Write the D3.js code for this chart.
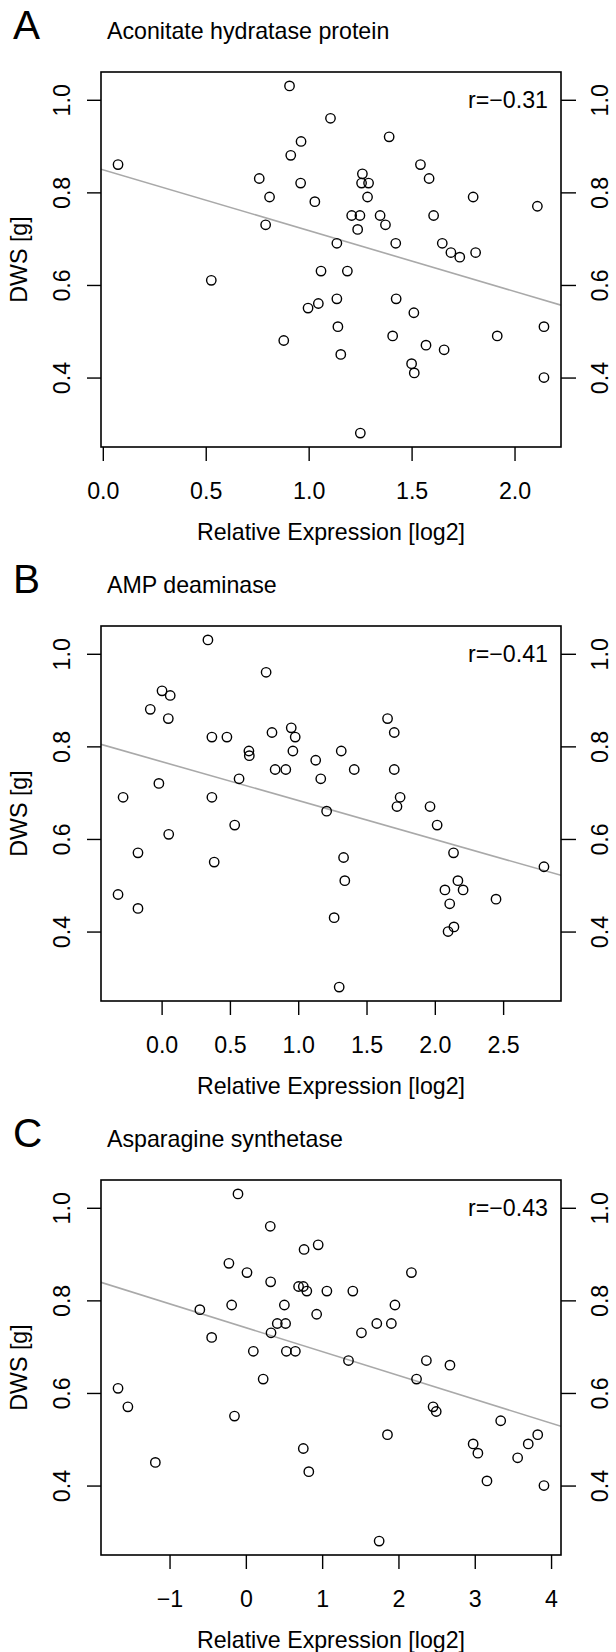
<!DOCTYPE html>
<html>
<head>
<meta charset="utf-8">
<script src="https://cdn.jsdelivr.net/npm/d3@7"></script>
<style>
  body { margin: 0; background: #fff; }
  svg text { font-family: "Liberation Sans", Arial, sans-serif; fill: #000; }
</style>
</head>
<body>
<div id="chart"></div>
<script>
// panel A: Aconitate hydratase protein
const xA = [0.074, 0.527, 0.760, 0.810, 0.791, 0.907, 0.913, 0.963, 0.961, 0.879, 0.997, 1.047, 1.030, 1.060, 1.106, 1.137, 1.137,
    1.142, 1.156, 1.188, 1.209, 1.238, 1.249, 1.251, 1.257, 1.261, 1.291, 1.286, 1.347, 1.373, 1.391, 1.423, 1.425, 1.408, 1.500,
    1.513, 1.511, 1.543, 1.585, 1.570, 1.607, 1.649, 1.658, 1.691, 1.734, 1.799, 1.811, 1.916, 2.111, 2.143, 2.143];
const yA = [0.86, 0.61, 0.83, 0.79, 0.73, 1.03, 0.88, 0.91, 0.82, 0.48, 0.55, 0.56, 0.78, 0.63, 0.96, 0.69, 0.57,
    0.51, 0.45, 0.63, 0.75, 0.72, 0.75, 0.28, 0.82, 0.84, 0.82, 0.79, 0.75, 0.73, 0.92, 0.69, 0.57, 0.49, 0.43,
    0.41, 0.54, 0.86, 0.83, 0.47, 0.75, 0.69, 0.46, 0.67, 0.66, 0.79, 0.67, 0.49, 0.77, 0.51, 0.40];

// panel B: AMP deaminase
const xB = [-0.319, -0.282, -0.173, -0.173, -0.083, -0.020, 0.003, 0.063, 0.049, 0.052, 0.339, 0.368, 0.368, 0.385, 0.478, 0.535,
    0.567, 0.639, 0.642, 0.765, 0.808, 0.831, 0.909, 0.949, 0.978, 0.961, 1.128, 1.165, 1.208, 1.263, 1.300, 1.315, 1.332, 1.341,
    1.410, 1.654, 1.703, 1.703, 1.723, 1.746, 1.965, 2.017, 2.074, 2.109, 2.097, 2.140, 2.137, 2.169, 2.207, 2.448, 2.799];
const yB = [0.48, 0.69, 0.57, 0.45, 0.88, 0.72, 0.92, 0.91, 0.86, 0.61, 1.03, 0.82, 0.69, 0.55, 0.82, 0.63,
    0.73, 0.79, 0.78, 0.96, 0.83, 0.75, 0.75, 0.84, 0.82, 0.79, 0.77, 0.73, 0.66, 0.43, 0.28, 0.79, 0.56, 0.51,
    0.75, 0.86, 0.83, 0.75, 0.67, 0.69, 0.67, 0.63, 0.49, 0.46, 0.40, 0.41, 0.57, 0.51, 0.49, 0.47, 0.54];

// panel C: Asparagine synthetase
const xC = [-1.675, -1.546, -1.186, -0.603, -0.448, -0.222, -0.186, -0.149, -0.103, 0.015, 0.098, 0.227, 0.320, 0.325, 0.330,
    0.412, 0.521, 0.505, 0.531, 0.649, 0.691, 0.753, 0.763, 0.799, 0.753, 0.825, 0.928, 0.948, 1.062, 1.345, 1.402, 1.515, 1.716,
    1.747, 1.856, 1.907, 1.954, 2.170, 2.237, 2.366, 2.454, 2.495, 2.675, 2.979, 3.041, 3.160, 3.340, 3.562, 3.701, 3.825, 3.907];
const yC = [0.61, 0.57, 0.45, 0.78, 0.72, 0.88, 0.79, 0.55, 1.03, 0.86, 0.69, 0.63, 0.96, 0.84, 0.73,
    0.75, 0.75, 0.79, 0.69, 0.69, 0.83, 0.83, 0.91, 0.82, 0.48, 0.43, 0.77, 0.92, 0.82, 0.67, 0.82, 0.73, 0.75,
    0.28, 0.51, 0.75, 0.79, 0.86, 0.63, 0.67, 0.57, 0.56, 0.66, 0.49, 0.47, 0.41, 0.54, 0.46, 0.49, 0.51, 0.40];

// regression lines: [intercept, slope]
const fitA = [0.849, -0.1315];
const fitB = [0.767, -0.084];
const fitC = [0.741, -0.0516];

const xTicksA = [0, 0.5, 1, 1.5, 2];
const xTicksB = [0, 0.5, 1, 1.5, 2, 2.5];
const xTicksC = [-1, 0, 1, 2, 3, 4];
const yTicks = [0.4, 0.6, 0.8, 1.0];

const panels = [
    {letter: 'A', title: 'Aconitate hydratase protein', r: 'r=\u22120.31', x: xA, y: yA, fit: fitA, ticks: xTicksA, fmt: '.1f'},
    {letter: 'B', title: 'AMP deaminase', r: 'r=\u22120.41', x: xB, y: yB, fit: fitB, ticks: xTicksB, fmt: '.1f'},
    {letter: 'C', title: 'Asparagine synthetase', r: 'r=\u22120.43', x: xC, y: yC, fit: fitC, ticks: xTicksC, fmt: 'd'}
];

const W = 616, H = 1652;
const boxL = 101, boxR = 561, boxT = 72, boxB = 447;
const fs = 23.2;

let svg = d3.select('#chart')
    .append('svg')
    .attr('width', W)
    .attr('height', H);

// R style range: data extent padded by 4%
function pad(ext) {
    let d = (ext[1] - ext[0]) * 0.04;
    return [ext[0] - d, ext[1] + d];
}

panels.forEach((p, i) => {
    let g = svg.append('g').attr('transform', `translate(0,${i * 554})`);

    let x = d3.scaleLinear().domain(pad(d3.extent(p.x))).range([boxL, boxR]);
    let y = d3.scaleLinear().domain(pad(d3.extent(p.y))).range([boxB, boxT]);

    g.append('text')
        .attr('x', 13).attr('y', 39)
        .style('font-size', '40.5px')
        .text(p.letter);
    g.append('text')
        .attr('x', 107).attr('y', 38.5)
        .style('font-size', fs + 'px')
        .text(p.title);

    let clipId = 'clip' + i;
    g.append('clipPath').attr('id', clipId)
        .append('rect')
        .attr('x', boxL).attr('y', boxT)
        .attr('width', boxR - boxL).attr('height', boxB - boxT);

    let xd = x.domain();
    g.append('line')
        .attr('clip-path', `url(#${clipId})`)
        .attr('x1', x(xd[0])).attr('y1', y(p.fit[0] + p.fit[1] * xd[0]))
        .attr('x2', x(xd[1])).attr('y2', y(p.fit[0] + p.fit[1] * xd[1]))
        .attr('stroke', '#a9a9a9')
        .attr('stroke-width', 1.6);

    g.selectAll('.pt')
        .data(p.x.map((v, k) => [v, p.y[k]]))
        .enter()
        .append('circle')
        .attr('class', 'pt')
        .attr('cx', d => x(d[0]))
        .attr('cy', d => y(d[1]))
        .attr('r', 4.7)
        .attr('fill', 'none')
        .attr('stroke', '#000')
        .attr('stroke-width', 1.4);

    // bottom axis
    let ax = g.append('g')
        .attr('transform', `translate(0,${boxB})`)
        .call(d3.axisBottom(x).tickValues(p.ticks).tickSize(14).tickFormat(d3.format(p.fmt)));
    ax.select('.domain').remove();
    ax.selectAll('line').attr('stroke-width', 1.4);
    ax.selectAll('text').attr('y', 52).attr('dy', null)
        .style('font-size', fs + 'px');
    ax.attr('font-family', null);

    // left and right axes
    let ay = g.append('g')
        .attr('transform', `translate(${boxL},0)`)
        .call(d3.axisLeft(y).tickValues(yTicks).tickSize(14).tickFormat(d3.format('.1f')));
    ay.select('.domain').remove();
    ay.selectAll('line').attr('stroke-width', 1.4);
    ay.selectAll('text')
        .attr('x', null).attr('dy', null)
        .attr('text-anchor', 'middle')
        .attr('transform', 'translate(-31,0) rotate(-90)')
        .style('font-size', fs + 'px');
    ay.attr('font-family', null);

    let ay2 = g.append('g')
        .attr('transform', `translate(${boxR},0)`)
        .call(d3.axisRight(y).tickValues(yTicks).tickSize(15).tickFormat(d3.format('.1f')));
    ay2.select('.domain').remove();
    ay2.selectAll('line').attr('stroke-width', 1.4);
    ay2.selectAll('text')
        .attr('x', null).attr('dy', null)
        .attr('text-anchor', 'middle')
        .attr('transform', 'translate(46.5,0) rotate(-90)')
        .style('font-size', fs + 'px');
    ay2.attr('font-family', null);

    g.append('rect')
        .attr('x', boxL).attr('y', boxT)
        .attr('width', boxR - boxL).attr('height', boxB - boxT)
        .attr('fill', 'none')
        .attr('stroke', '#000')
        .attr('stroke-width', 1.6);

    g.append('text')
        .attr('x', 548).attr('y', 108)
        .attr('text-anchor', 'end')
        .style('font-size', fs + 'px')
        .text(p.r);

    g.append('text')
        .attr('transform', `translate(26.5,${(boxT + boxB) / 2}) rotate(-90)`)
        .attr('text-anchor', 'middle')
        .style('font-size', fs + 'px')
        .text('DWS [g]');

    g.append('text')
        .attr('x', (boxL + boxR) / 2).attr('y', 540)
        .attr('text-anchor', 'middle')
        .style('font-size', fs + 'px')
        .text('Relative Expression [log2]');
});
</script>
</body>
</html>
